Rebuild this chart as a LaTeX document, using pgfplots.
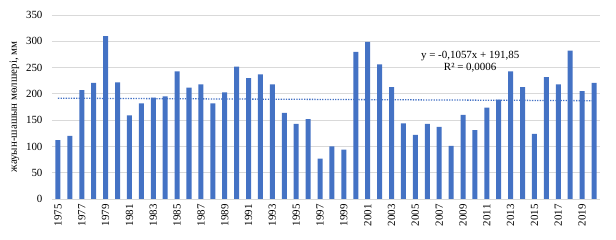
\documentclass[border=0pt]{standalone}
\usepackage{pgfplots}
\pgfplotsset{compat=1.18}
\usepackage{fontspec}
\setmainfont{Liberation Serif}
\definecolor{barblue}{HTML}{4472C4}
\definecolor{gridgray}{HTML}{D9D9D9}
\begin{document}
\begin{tikzpicture}
\useasboundingbox (-52bp,-41bp) rectangle (564bp,199bp);
\begin{axis}[
  at={(0,0)}, anchor=south west,
  scale only axis,
  width=548bp, height=184bp,
  xmin=-0.5, xmax=45.5,
  ymin=0, ymax=350,
  ytick={0,50,...,350},
  xtick={0,2,...,44},
  xticklabels={1975,1977,1979,1981,1983,1985,1987,1989,1991,1993,1995,1997,1999,2001,2003,2005,2007,2009,2011,2013,2015,2017,2019},
  x tick label style={rotate=90, anchor=east, font=\fontsize{11}{12}\selectfont, xshift=-2bp},
  y tick label style={font=\fontsize{11}{12}\selectfont, xshift=-6bp},
  /pgf/number format/assume math mode=true,
  major tick length=0pt,
  ymajorgrids,
  grid style={gridgray, line width=0.8pt},
  axis line style={draw=none},
  ylabel={жауын-шашын мөлшері, мм},
  ylabel style={font=\fontsize{11}{12}\selectfont},
  clip=false,
]
\addplot[ybar, bar width=0.42, fill=barblue, draw=none] coordinates {
(0,112) (1,120) (2,207) (3,221) (4,310) (5,222) (6,159) (7,182) (8,193) (9,195)
(10,243) (11,212) (12,218) (13,182) (14,203) (15,252) (16,230) (17,237) (18,218) (19,164)
(20,143) (21,152) (22,77) (23,100) (24,94) (25,280) (26,299) (27,256) (28,213) (29,144)
(30,122) (31,143) (32,137) (33,101) (34,160) (35,131) (36,174) (37,189) (38,243) (39,213)
(40,124) (41,232) (42,218) (43,282) (44,205) (45,221)
};
\addplot[barblue, line width=1.3pt, dash pattern=on 1.3pt off 1.3pt] coordinates {(0,191.7443) (45,186.9878)};
\node[align=center, font=\fontsize{11}{12}\selectfont, inner sep=0pt] at (axis cs:34.6,261) {y = -0,1057x + 191,85\\R² = 0,0006};
\draw[gridgray, line width=0.8pt] (axis cs:-0.5,0) -- (axis cs:45.5,0);
\end{axis}
\end{tikzpicture}
\end{document}
